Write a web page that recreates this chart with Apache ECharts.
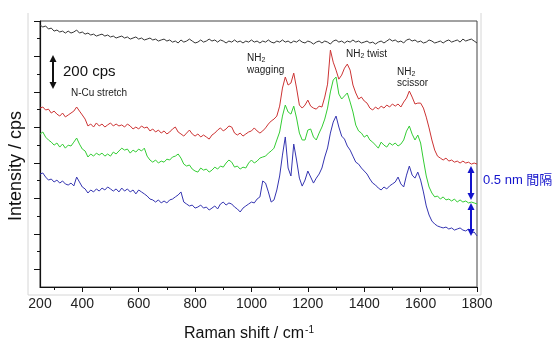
<!DOCTYPE html>
<html>
<head>
<meta charset="utf-8">
<script src="https://cdn.jsdelivr.net/npm/echarts@6/dist/echarts.min.js"></script>
<style>
  html, body { margin: 0; padding: 0; background: #fff; }
  #chart { width: 552px; height: 338px; }
</style>
</head>
<body>
<div id="chart"></div>
<script>
// Raman shift sampling points (cm-1)
const ramanShift = [
  250, 260, 270, 280, 290, 300, 310, 320, 330, 340,
  350, 360, 370, 380, 390, 400, 410, 420, 430, 440,
  450, 460, 470, 480, 490, 500, 510, 520, 530, 540,
  550, 560, 570, 580, 590, 600, 610, 620, 630, 640,
  650, 660, 670, 680, 690, 700, 710, 720, 730, 740,
  750, 760, 770, 780, 790, 800, 810, 820, 830, 840,
  850, 860, 870, 880, 890, 900, 910, 920, 930, 940,
  950, 960, 970, 980, 990, 1000, 1010, 1020, 1030, 1040,
  1050, 1060, 1070, 1080, 1090, 1100, 1110, 1120, 1130, 1140,
  1150, 1160, 1170, 1180, 1190, 1200, 1210, 1220, 1230, 1240,
  1250, 1260, 1270, 1280, 1290, 1300, 1310, 1320, 1330, 1340,
  1350, 1360, 1370, 1380, 1390, 1400, 1410, 1420, 1430, 1440,
  1450, 1460, 1470, 1480, 1490, 1500, 1510, 1520, 1530, 1540,
  1550, 1560, 1570, 1580, 1590, 1600, 1610, 1620, 1630, 1640,
  1650, 1660, 1670, 1680, 1690, 1700, 1710, 1720, 1730, 1740,
  1750, 1760, 1770, 1780, 1790, 1800
]

// intensities (cps, offset spectra)
const blackTrace = [
  1477, 1466, 1472, 1455, 1460, 1443, 1449, 1438, 1443, 1432,
  1443, 1432, 1438, 1449, 1432, 1438, 1426, 1432, 1421, 1426,
  1415, 1421, 1426, 1415, 1421, 1410, 1415, 1404, 1410, 1415,
  1404, 1410, 1398, 1404, 1410, 1398, 1404, 1393, 1398, 1404,
  1393, 1398, 1387, 1393, 1398, 1387, 1393, 1381, 1387, 1376,
  1393, 1381, 1387, 1398, 1387, 1376, 1381, 1393, 1381, 1387,
  1398, 1387, 1393, 1381, 1393, 1387, 1376, 1387, 1381, 1393,
  1381, 1387, 1376, 1387, 1381, 1393, 1381, 1387, 1376, 1387,
  1381, 1393, 1381, 1376, 1387, 1381, 1393, 1381, 1387, 1376,
  1387, 1381, 1393, 1381, 1376, 1387, 1381, 1370, 1381, 1387,
  1376, 1387, 1381, 1370, 1387, 1393, 1381, 1387, 1376, 1387,
  1381, 1393, 1381, 1387, 1376, 1381, 1387, 1376, 1381, 1370,
  1381, 1387, 1376, 1387, 1398, 1387, 1393, 1381, 1387, 1376,
  1393, 1398, 1387, 1393, 1381, 1387, 1376, 1381, 1393, 1387,
  1376, 1381, 1387, 1376, 1387, 1393, 1381, 1387, 1393, 1381,
  1398, 1387, 1393, 1398, 1387, 1376
]
const redTrace = [
  1009, 1015, 998, 1003, 981, 992, 975, 964, 981, 959,
  970, 981, 992, 1015, 992, 970, 947, 908, 919, 902,
  925, 908, 919, 902, 914, 925, 908, 919, 908, 914,
  902, 919, 908, 891, 902, 891, 908, 897, 902, 880,
  891, 874, 885, 868, 880, 863, 874, 891, 902, 874,
  863, 851, 868, 885, 863, 851, 863, 846, 857, 846,
  834, 857, 868, 885, 897, 880, 891, 908, 902, 868,
  857, 868, 851, 863, 874, 880, 897, 880, 868, 880,
  897, 919, 936, 947, 964, 1020, 1122, 1184, 1139, 1150,
  1206, 1122, 1026, 1009, 1026, 1054, 1020, 1009, 1003, 1020,
  1015, 1071, 1144, 1336, 1268, 1223, 1172, 1195, 1234, 1257,
  1223, 1139, 1094, 1060, 1071, 1049, 1037, 1009, 998, 1015,
  1003, 1020, 1009, 1026, 1015, 1032, 1020, 1032, 1015, 1043,
  1065, 1105, 1071, 1032, 1037, 1037, 1009, 958, 897, 829,
  772, 738, 727, 716, 727, 710, 716, 704, 710, 699,
  710, 699, 704, 693, 699, 693
]
const greenTrace = [
  862, 874, 845, 829, 817, 800, 812, 789, 806, 783,
  800, 795, 817, 840, 806, 778, 767, 733, 750, 738,
  755, 744, 755, 738, 750, 738, 761, 750, 767, 783,
  772, 778, 755, 772, 761, 778, 767, 783, 738, 716,
  704, 716, 699, 710, 704, 721, 716, 733, 738, 750,
  727, 693, 682, 688, 665, 654, 648, 671, 659, 665,
  648, 659, 676, 665, 682, 676, 699, 716, 704, 676,
  682, 665, 676, 671, 699, 716, 699, 710, 727, 733,
  738, 755, 767, 783, 829, 874, 964, 1026, 987, 975,
  1020, 953, 868, 829, 829, 885, 891, 846, 829, 868,
  902, 947, 1009, 1100, 1167, 1184, 1088, 1060, 1077, 1094,
  1043, 987, 913, 880, 868, 845, 857, 829, 817, 800,
  783, 817, 800, 789, 812, 800, 812, 795, 806, 829,
  879, 908, 862, 829, 857, 812, 716, 626, 564, 530,
  508, 513, 496, 508, 491, 496, 485, 496, 479, 491,
  479, 485, 474, 479, 474, 468
]
const blueTrace = [
  637, 643, 620, 603, 609, 592, 603, 586, 598, 581,
  575, 586, 570, 620, 592, 564, 553, 530, 547, 536,
  553, 541, 558, 547, 564, 553, 541, 553, 536, 558,
  541, 553, 536, 547, 525, 547, 536, 525, 513, 496,
  491, 479, 491, 474, 485, 474, 491, 496, 508, 519,
  536, 479, 468, 457, 462, 445, 451, 462, 445, 451,
  434, 445, 457, 440, 468, 479, 462, 474, 468, 451,
  440, 423, 445, 457, 468, 479, 474, 496, 508, 598,
  586, 536, 479, 491, 547, 626, 744, 846, 671, 626,
  806, 716, 614, 569, 603, 654, 620, 586, 614, 637,
  671, 733, 784, 868, 930, 964, 902, 851, 834, 795,
  772, 738, 704, 693, 671, 654, 637, 609, 586, 575,
  558, 547, 564, 553, 570, 581, 592, 620, 581, 564,
  631, 682, 631, 614, 648, 603, 536, 457, 406, 372,
  355, 344, 338, 333, 338, 327, 333, 321, 327, 333,
  321, 316, 327, 304, 310, 288
]

// axis ticks and labels
const xLabelValues = [250, 400, 600, 800, 1000, 1200, 1400, 1600, 1800]
const xTickLabels = ['200', '400', '600', '800', '1000', '1200', '1400', '1600', '1800']
const xMajorTicks = [400, 600, 800, 1000, 1200, 1400, 1600, 1800]
const xMinorTicks = [300, 500, 700, 900, 1100, 1300, 1500, 1700]
const yLongTicks = [100, 300, 500, 700, 900, 1100, 1300, 1500]
const yShortTicks = [200, 400, 600, 800, 1000, 1200, 1400]

const font = "'Liberation Sans', Arial, sans-serif"
const cjkFont = "'Liberation Sans', 'Noto Sans CJK JP', sans-serif"

const chart = echarts.init(document.getElementById('chart'))

function trace(name, values, color) {
  return {
    name: name,
    type: 'line',
    data: ramanShift.map((x, i) => [x, values[i]]),
    symbol: 'none',
    lineStyle: { color: color, width: 1 },
    itemStyle: { color: color },
    silent: true,
    z: 3
  }
}

function arrow(x, y1, y2, color) {
  // vertical double-headed arrow
  return [
    { type: 'line', shape: { x1: x, y1: y1 + 5, x2: x, y2: y2 - 5 }, style: { stroke: color, lineWidth: 2 }, z: 10 },
    { type: 'polygon', shape: { points: [[x, y1], [x - 3.5, y1 + 7], [x + 3.5, y1 + 7]] }, style: { fill: color }, z: 10 },
    { type: 'polygon', shape: { points: [[x, y2], [x - 3.5, y2 - 7], [x + 3.5, y2 - 7]] }, style: { fill: color }, z: 10 }
  ]
}

function label(x, y, text, size, color, rich) {
  return {
    type: 'text', x: x, y: y, z: 10,
    style: {
      text: text, fill: color || '#111', font: size + 'px ' + font,
      textAlign: 'left', textVerticalAlign: 'middle', verticalAlign: 'middle',
      rich: rich
    }
  }
}

const nhRich = {
  a: { fontSize: 10, fontFamily: font, color: '#222', lineHeight: 12 },
  s: { fontSize: 7, fontFamily: font, color: '#222', lineHeight: 12, verticalAlign: 'bottom', padding: [5, 0, 0, 0] }
}

chart.setOption({
  animation: false,
  grid: {
    left: 40, top: 21, right: 75, bottom: 51,
    show: true, borderColor: '#444', borderWidth: 1
  },
  xAxis: [{
    type: 'value', min: 250, max: 1800, interval: 50,
    axisLine: { lineStyle: { color: '#111', width: 1.2 } },
    axisTick: { customValues: xMajorTicks, length: 5, lineStyle: { color: '#111' } },
    axisLabel: {
      customValues: xLabelValues,
      formatter: v => xTickLabels[xLabelValues.indexOf(v)],
      fontSize: 14, fontFamily: font, color: '#222', margin: 10
    },
    splitLine: { show: false }
  }, {
    type: 'value', min: 250, max: 1800, interval: 50, position: 'bottom', offset: 0,
    axisLine: { show: false },
    axisTick: { customValues: xMinorTicks, length: 3, lineStyle: { color: '#111' } },
    axisLabel: { show: false },
    splitLine: { show: false }
  }],
  yAxis: [{
    type: 'value', min: 0, max: 1500, interval: 100,
    axisLine: { show: true, lineStyle: { color: '#111', width: 1.2 } },
    axisTick: { show: true, customValues: yLongTicks, length: 6, lineStyle: { color: '#111' } },
    axisLabel: { show: false },
    splitLine: { show: false }
  }, {
    type: 'value', min: 0, max: 1500, interval: 100, position: 'left', offset: 0,
    axisLine: { show: false },
    axisTick: { show: true, customValues: yShortTicks, length: 3, lineStyle: { color: '#111' } },
    axisLabel: { show: false },
    splitLine: { show: false }
  }],
  series: [
    trace('black', blackTrace, '#333333'),
    trace('red', redTrace, '#cc3333'),
    trace('green', greenTrace, '#33cc33'),
    trace('blue', blueTrace, '#3434b0')
  ],
  graphic: [
    { type: 'polyline', shape: { points: [[28, 13], [28, 295], [481, 295], [481, 13]] },
      style: { stroke: '#d6d6d6', lineWidth: 1, fill: null }, z: -1, silent: true },
    ...arrow(53, 55, 89, '#111'),
    ...arrow(471, 166, 200, '#1414cc'),
    ...arrow(471, 203, 236, '#1414cc'),
    label(63, 72, '200 cps', 15, '#111'),
    label(71, 93, 'N-Cu stretch', 10, '#222'),
    label(247, 58, '{a|NH}{s|2}', 10, '#222', nhRich),
    label(247, 70, 'wagging', 10, '#222'),
    label(346, 54, '{a|NH}{s|2}{a| twist}', 10, '#222', nhRich),
    label(397, 72, '{a|NH}{s|2}', 10, '#222', nhRich),
    label(397, 83, 'scissor', 10, '#222'),
    { type: 'text', x: 483, y: 180, z: 10,
      style: { text: '0.5 nm 間隔', fill: '#1414cc', font: '13px ' + cjkFont,
        textAlign: 'left', textVerticalAlign: 'middle', verticalAlign: 'middle' } },
    { type: 'text', x: 16, y: 166, rotation: Math.PI / 2, z: 10,
      style: { text: 'Intensity / cps', fill: '#111', font: '18px ' + font,
        textAlign: 'center', textVerticalAlign: 'middle', verticalAlign: 'middle', align: 'center' } },
    { type: 'text', x: 249, y: 334, z: 10,
      style: {
        text: '{a|Raman shift / cm}{b|-1}', fill: '#111',
        textAlign: 'center', textVerticalAlign: 'middle', align: 'center', verticalAlign: 'middle',
        rich: {
          a: { fontSize: 16, fontFamily: font, color: '#111', lineHeight: 18 },
          b: { fontSize: 10, fontFamily: font, color: '#111', lineHeight: 18, verticalAlign: 'top', padding: [0, 0, 6, 1] }
        }
      } }
  ]
})
</script>
</body>
</html>
